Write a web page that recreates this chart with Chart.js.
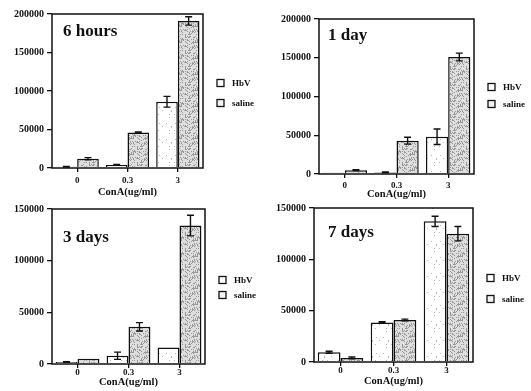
<!DOCTYPE html>
<html>
<head>
<meta charset="utf-8">
<script src="https://cdn.jsdelivr.net/npm/chart.js@4/dist/chart.umd.min.js"></script>
<style>
  html, body { margin: 0; padding: 0; background: #fff; }
  #fig { position: relative; width: 531px; height: 391px; overflow: hidden; background: #fff; }
  #fig canvas { position: absolute; }
</style>
</head>
<body>
<div id="fig">
  <canvas id="p6h" width="265" height="200" style="left:0px;top:0px"></canvas>
  <canvas id="p1d" width="266" height="202" style="left:265px;top:0px"></canvas>
  <canvas id="p3d" width="265" height="193" style="left:0px;top:198px"></canvas>
  <canvas id="p7d" width="266" height="193" style="left:265px;top:198px"></canvas>
</div>
<script>
// ConA doses on the x axis
const doses = ['0', '0.3', '3'];
const seriesNames = ['HbV', 'saline'];
const axisTitle = 'ConA(ug/ml)';

// y tick values
const yTicksHigh = [0, 50000, 100000, 150000, 200000];
const yTicksLow = [0, 50000, 100000, 150000];

// 6 hours
const hbv6h = [1500, 4000, 86000];
const hbv6hErr = [400, 600, 7000];
const saline6h = [12000, 46000, 191000];
const saline6hErr = [1500, 700, 5500];

// 1 day
const hbv1d = [1500, 2000, 48000];
const hbv1dErr = [0, 500, 10000];
const saline1d = [5000, 43000, 151000];
const saline1dErr = [500, 4500, 5000];

// 3 days
const hbv3d = [2000, 8000, 16000];
const hbv3dErr = [300, 3500, 0];
const saline3d = [5000, 36000, 134000];
const saline3dErr = [0, 4000, 10000];

// 7 days
const hbv7d = [9500, 38500, 137000];
const hbv7dErr = [1000, 700, 5000];
const saline7d = [4000, 41000, 125000];
const saline7dErr = [800, 800, 7000];

const SERIF = '"Liberation Serif", "DejaVu Serif", serif';

// stippled fills for the bars: a fixed hash decides which pixels of the tile get a dot
function stipple(size, base, dot, every, salt) {
  const c = document.createElement('canvas');
  c.width = size; c.height = size;
  const g = c.getContext('2d');
  g.fillStyle = base;
  g.fillRect(0, 0, size, size);
  g.fillStyle = dot;
  for (let y = 0; y < size; y++) {
    for (let x = 0; x < size; x++) {
      const h = ((x * 73856093) ^ (y * 19349663) ^ salt) >>> 0;
      if ((h % 97) % every === 0) g.fillRect(x, y, 1, 1);
    }
  }
  return g.createPattern(c, 'repeat');
}
const hbvFill = stipple(16, '#ffffff', '#b8b8b8', 23, 83492791);
const salineFill = stipple(16, '#dedede', '#999999', 3, 2654435761);

// frame around the plotting area
const framePlugin = {
  id: 'frame',
  afterDraw(chart) {
    const { ctx, chartArea: a } = chart;
    ctx.save();
    ctx.strokeStyle = '#111';
    ctx.lineWidth = 1.5;
    ctx.strokeRect(a.left, a.top, a.right - a.left, a.bottom - a.top);
    ctx.restore();
  }
};

// error bars read from each dataset's "errors" array
const errorBarPlugin = {
  id: 'errorBars',
  afterDatasetsDraw(chart) {
    const { ctx } = chart;
    const y = chart.scales.y;
    ctx.save();
    ctx.strokeStyle = '#111';
    ctx.lineWidth = 1.4;
    chart.data.datasets.forEach((ds, i) => {
      const meta = chart.getDatasetMeta(i);
      meta.data.forEach((bar, j) => {
        const e = ds.errors ? ds.errors[j] : 0;
        if (!e) return;
        const v = ds.data[j];
        const yHi = y.getPixelForValue(v + e);
        const yLo = y.getPixelForValue(v - e);
        const half = 3.5;
        ctx.beginPath();
        ctx.moveTo(bar.x, yHi); ctx.lineTo(bar.x, yLo);
        ctx.moveTo(bar.x - half, yHi); ctx.lineTo(bar.x + half, yHi);
        ctx.moveTo(bar.x - half, yLo); ctx.lineTo(bar.x + half, yLo);
        ctx.stroke();
      });
    });
    ctx.restore();
  }
};

// time-point label inside the plot
const panelLabelPlugin = {
  id: 'panelLabel',
  afterDraw(chart, args, opts) {
    const { ctx, chartArea: a } = chart;
    ctx.save();
    ctx.fillStyle = '#111';
    ctx.font = 'bold 17px ' + SERIF;
    ctx.textBaseline = 'middle';
    ctx.textAlign = 'left';
    ctx.fillText(opts.text, a.left + opts.dx, a.top + opts.dy);
    ctx.restore();
  }
};

// square-box legend to the right of the plot
const boxLegendPlugin = {
  id: 'boxLegend',
  afterDraw(chart, args, opts) {
    const { ctx, chartArea: a } = chart;
    ctx.save();
    ctx.font = 'bold 9px ' + SERIF;
    ctx.textBaseline = 'middle';
    chart.data.datasets.forEach((ds, i) => {
      const cy = a.top + opts.dy + i * opts.gap;
      const bx = a.right + opts.dx;
      ctx.fillStyle = i === 0 ? '#ffffff' : '#f2f2f2';
      ctx.fillRect(bx, cy - 3.5, 7, 7);
      ctx.strokeStyle = '#111';
      ctx.lineWidth = 1.3;
      ctx.strokeRect(bx, cy - 3.5, 7, 7);
      ctx.fillStyle = '#111';
      ctx.fillText(ds.label, bx + 15, cy + 0.5);
    });
    ctx.restore();
  }
};

function makePanel(id, label, hbv, hbvErr, saline, salineErr, yTicks, geo) {
  const canvas = document.getElementById(id);
  const W = canvas.width, H = canvas.height;
  return new Chart(canvas, {
    type: 'bar',
    data: {
      labels: doses,
      datasets: [
        { label: seriesNames[0], data: hbv, errors: hbvErr,
          backgroundColor: hbvFill, borderColor: '#111', borderWidth: 1.5, borderSkipped: 'bottom' },
        { label: seriesNames[1], data: saline, errors: salineErr,
          backgroundColor: salineFill, borderColor: '#111', borderWidth: 1.5, borderSkipped: 'bottom' }
      ]
    },
    options: {
      responsive: false,
      animation: false,
      devicePixelRatio: 1,
      events: [],
      datasets: { bar: { categoryPercentage: 0.86, barPercentage: 1.0 } },
      layout: { padding: { left: 0, top: geo.top, right: W - geo.right, bottom: 0 } },
      plugins: {
        legend: { display: false },
        tooltip: { enabled: false },
        panelLabel: { text: label, dx: geo.labelDx, dy: geo.labelDy },
        boxLegend: { dx: 14, dy: geo.legDy, gap: geo.legGap }
      },
      scales: {
        x: {
          offset: true,
          afterFit(s) { s.height = H - geo.bottom; },
          grid: { offset: false, drawOnChartArea: false, drawTicks: true, tickLength: 4, color: '#111', lineWidth: 1.3 },
          border: { display: false },
          ticks: { color: '#111', padding: geo.xPad, font: { family: SERIF, size: 9, weight: 'bold', lineHeight: 1.1 }, maxRotation: 0 },
          title: { display: true, text: axisTitle, color: '#111', padding: { top: 0, bottom: geo.titlePad },
                   font: { family: SERIF, size: 10.5, weight: 'bold', lineHeight: 1 } }
        },
        y: {
          min: yTicks[0],
          max: yTicks[yTicks.length - 1],
          afterFit(s) { s.width = geo.left; },
          afterBuildTicks(s) { s.ticks = yTicks.map(v => ({ value: v })); },
          grid: { drawOnChartArea: false, drawTicks: true, tickLength: 5, color: '#111', lineWidth: 1.3 },
          border: { display: false },
          ticks: { color: '#111', padding: 3, font: { family: SERIF, size: 10, weight: 'bold' },
                   callback: v => String(v) }
        }
      }
    },
    plugins: [errorBarPlugin, framePlugin, panelLabelPlugin, boxLegendPlugin]
  });
}

makePanel('p6h', '6 hours', hbv6h, hbv6hErr, saline6h, saline6hErr, yTicksHigh,
  { left: 52, top: 14, right: 203, bottom: 168, xPad: 4, titlePad: 2, labelDx: 11, labelDy: 18, legDy: 69, legGap: 20 });
makePanel('p1d', '1 day', hbv1d, hbv1dErr, saline1d, saline1dErr, yTicksHigh,
  { left: 54, top: 19, right: 209, bottom: 174, xPad: 3, titlePad: 2, labelDx: 9, labelDy: 17, legDy: 68, legGap: 17 });
makePanel('p3d', '3 days', hbv3d, hbv3dErr, saline3d, saline3dErr, yTicksLow,
  { left: 52, top: 11, right: 205, bottom: 166, xPad: 0, titlePad: 3, labelDx: 11, labelDy: 29, legDy: 71, legGap: 15 });
makePanel('p7d', '7 days', hbv7d, hbv7dErr, saline7d, saline7dErr, yTicksLow,
  { left: 49, top: 10, right: 208, bottom: 164, xPad: 0, titlePad: 4, labelDx: 14, labelDy: 25, legDy: 70, legGap: 21 });
</script>
</body>
</html>
